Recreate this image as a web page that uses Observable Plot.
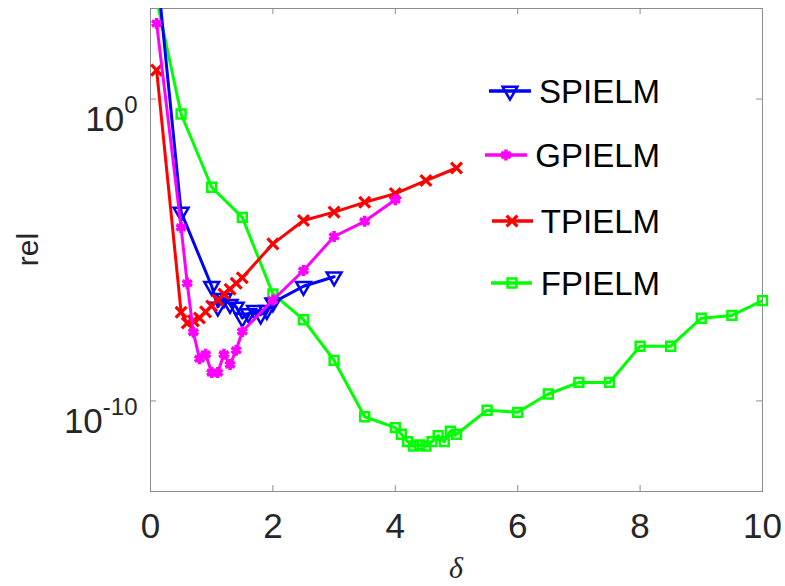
<!DOCTYPE html>
<html><head><meta charset="utf-8">
<script src="https://cdn.jsdelivr.net/npm/d3@7"></script>
<script src="https://cdn.jsdelivr.net/npm/@observablehq/plot@0.6"></script>
<style>body{margin:0;background:#fff} #chart{width:785px;height:586px}</style>
</head><body><div id="chart"></div>
<script>
// ---- data ----
const spielmX = [0.1, 0.5, 1.0, 1.1, 1.2, 1.3, 1.4, 1.5, 1.6, 1.7, 1.8, 1.9, 2.0, 2.5, 3.0];
const spielmY = [2.5e4, 1.8e-4, 6.3e-7, 1.3e-7, 2.5e-7, 1.6e-7, 1.3e-7, 5.6e-8, 7.9e-8, 1.0e-7, 7.1e-8, 1.0e-7, 1.8e-7, 6.3e-7, 1.3e-6];

const gpielmX = [0.1, 0.5, 0.6, 0.7, 0.8, 0.9, 1.0, 1.1, 1.2, 1.3, 1.4, 1.5, 2.0, 2.5, 3.0, 3.5, 4.0];
const gpielmY = [3.2e2, 5.6e-5, 7.9e-7, 1.9e-8, 2.5e-9, 3.5e-9, 8.7e-10, 8.7e-10, 3.5e-9, 1.6e-9, 4.8e-9, 2.0e-8, 2.2e-7, 2.1e-6, 2.8e-5, 8.9e-5, 4.6e-4];

const tpielmX = [0.1, 0.5, 0.6, 0.7, 0.8, 0.9, 1.0, 1.1, 1.2, 1.3, 1.4, 1.5, 2.0, 2.5, 3.0, 3.5, 4.0, 4.5, 5.0];
const tpielmY = [9.1, 8.7e-8, 3.8e-8, 4.5e-8, 5.6e-8, 8.9e-8, 1.4e-7, 2.2e-7, 3.5e-7, 5.0e-7, 7.9e-7, 1.2e-6, 1.6e-5, 9.5e-5, 1.8e-4, 3.8e-4, 7.4e-4, 2.0e-3, 5.2e-3];

const fpielmX = [0.1, 0.5, 1.0, 1.5, 2.0, 2.5, 3.0, 3.5, 4.0, 4.1, 4.2, 4.3, 4.4, 4.5, 4.6, 4.7, 4.8, 4.9, 5.0, 5.5, 6.0, 6.5, 7.0, 7.5, 8.0, 8.5, 9.0, 9.5, 10.0];
const fpielmY = [2.0e3, 0.32, 1.2e-3, 1.2e-4, 3.5e-7, 4.9e-8, 2.2e-9, 3.0e-11, 1.3e-11, 7.9e-12, 4.5e-12, 3.2e-12, 3.5e-12, 3.2e-12, 4.5e-12, 7.1e-12, 4.5e-12, 1.0e-11, 7.9e-12, 4.9e-11, 4.2e-11, 1.7e-10, 4.1e-10, 4.1e-10, 6.5e-9, 6.5e-9, 5.5e-8, 6.8e-8, 2.1e-7];

const seriesNames = ["SPIELM", "GPIELM", "TPIELM", "FPIELM"];
const seriesColors = ["#0000ff", "#ff00ff", "#ff0000", "#00ff00"];
const xTicks = [0, 2, 4, 6, 8, 10];
const yTicks = [1e0, 1e-10];
const xDomain = [0, 10];
const yDomain = [1e-13, 1e3];
const xLabel = "δ";
const yLabel = "rel";

// ---- layout ----
const W = 785, H = 586, mL = 150, mR = 23, mT = 8, mB = 95;
const innerW = W - mL - mR, innerH = H - mT - mB;
const axisColor = "#8c8c8c", textColor = "#262626";
const font = "'Liberation Sans', Arial, Helvetica, sans-serif";

const rows = (xs, ys) => xs.map((x, i) => ({x, y: ys[i]}));
const series = [
  {name: seriesNames[0], color: seriesColors[0], data: rows(spielmX, spielmY), symbol: "triangle", rotate: 180, r: 5.5, sw: 2.5},
  {name: seriesNames[1], color: seriesColors[1], data: rows(gpielmX, gpielmY), symbol: "asterisk", rotate: 0, r: 5.2, sw: 3.6},
  {name: seriesNames[2], color: seriesColors[2], data: rows(tpielmX, tpielmY), symbol: "times", rotate: 0, r: 5, sw: 3.2},
  {name: seriesNames[3], color: seriesColors[3], data: rows(fpielmX, fpielmY), symbol: "square", rotate: 0, r: 5, sw: 2.5}
];
const drawOrder = [3, 0, 2, 1];

const seriesMarks = [];
for (const k of drawOrder) {
  const s = series[k];
  seriesMarks.push(Plot.line(s.data, {x: "x", y: "y", stroke: s.color, strokeWidth: 3, clip: true}));
  seriesMarks.push(Plot.dot(s.data.filter(d => d.y <= yDomain[1] && d.y >= yDomain[0]),
    {x: "x", y: "y", symbol: () => s.symbol, rotate: s.rotate, r: s.r, stroke: s.color, strokeWidth: s.sw, fill: "none"}));
}

const plot = Plot.plot({
  width: W, height: H,
  marginLeft: mL, marginRight: mR, marginTop: mT, marginBottom: mB,
  style: {fontFamily: font, background: "white", overflow: "visible"},
  x: {domain: xDomain},
  y: {type: "log", domain: yDomain},
  marks: [
    Plot.frame({stroke: axisColor, strokeWidth: 1}),
    Plot.ruleX(xTicks, {x: d => d, insetTop: innerH - 6, stroke: axisColor}),
    Plot.ruleX(xTicks, {x: d => d, insetBottom: innerH - 6, stroke: axisColor}),
    Plot.ruleY(yTicks, {y: d => d, insetRight: innerW - 6, stroke: axisColor}),
    Plot.ruleY(yTicks, {y: d => d, insetLeft: innerW - 6, stroke: axisColor}),
    Plot.axisX(xTicks, {tickSize: 0, tickPadding: 22, fontSize: 35, fill: textColor, tickFormat: d => String(d), label: null}),
    Plot.axisY(yTicks, {tickSize: 0, tickPadding: 13, fontSize: 35, fill: textColor, tickFormat: d => String(Math.round(Math.log10(d))), label: null}),
    ...seriesMarks
  ]
});

document.getElementById("chart").appendChild(plot);
const svg = d3.select(plot);

// superscript exponents on the y tick labels
svg.selectAll('g[aria-label="y-axis tick label"] text').each(function () {
  const e = this.textContent;
  const t = d3.select(this);
  t.text("10").attr("dy", "21");
  t.append("tspan").attr("dy", "-18").attr("font-size", "24px").text(e);
});

// axis titles
svg.append("text")
  .attr("transform", `translate(38,${mT + innerH / 2}) rotate(-90)`)
  .attr("text-anchor", "middle").attr("font-family", font).attr("font-size", 30)
  .attr("fill", textColor).text(yLabel);
svg.append("text")
  .attr("x", mL + innerW / 2).attr("y", 578)
  .attr("text-anchor", "middle").attr("font-family", "'Liberation Serif', 'Times New Roman', serif")
  .attr("font-style", "italic").attr("font-size", 30).attr("fill", textColor).text(xLabel);

// legend (inside the axes, upper right)
const legendRows = [
  {y: 91, x1: 489, x2: 531, mx: 510},
  {y: 155, x1: 485, x2: 527, mx: 506},
  {y: 221, x1: 492, x2: 533, mx: 512},
  {y: 283, x1: 491, x2: 532, mx: 512}
];
const symMap = {triangle: d3.symbolTriangle, asterisk: d3.symbolAsterisk, times: d3.symbolTimes, square: d3.symbolSquare};
const lg = svg.append("g").attr("aria-label", "legend");
series.forEach((s, i) => {
  const r = legendRows[i];
  lg.append("line").attr("x1", r.x1).attr("x2", r.x2).attr("y1", r.y).attr("y2", r.y)
    .attr("stroke", s.color).attr("stroke-width", 3.5);
  lg.append("path")
    .attr("d", d3.symbol(symMap[s.symbol], Math.PI * s.r * s.r)())
    .attr("transform", `translate(${r.mx},${r.y}) rotate(${s.rotate})`)
    .attr("fill", "none").attr("stroke", s.color).attr("stroke-width", s.sw);
  lg.append("text").attr("x", 660).attr("y", r.y).attr("dy", "0.36em")
    .attr("text-anchor", "end").attr("font-family", font).attr("font-size", 33)
    .attr("fill", "#000").text(s.name);
});
</script>
</body></html>
